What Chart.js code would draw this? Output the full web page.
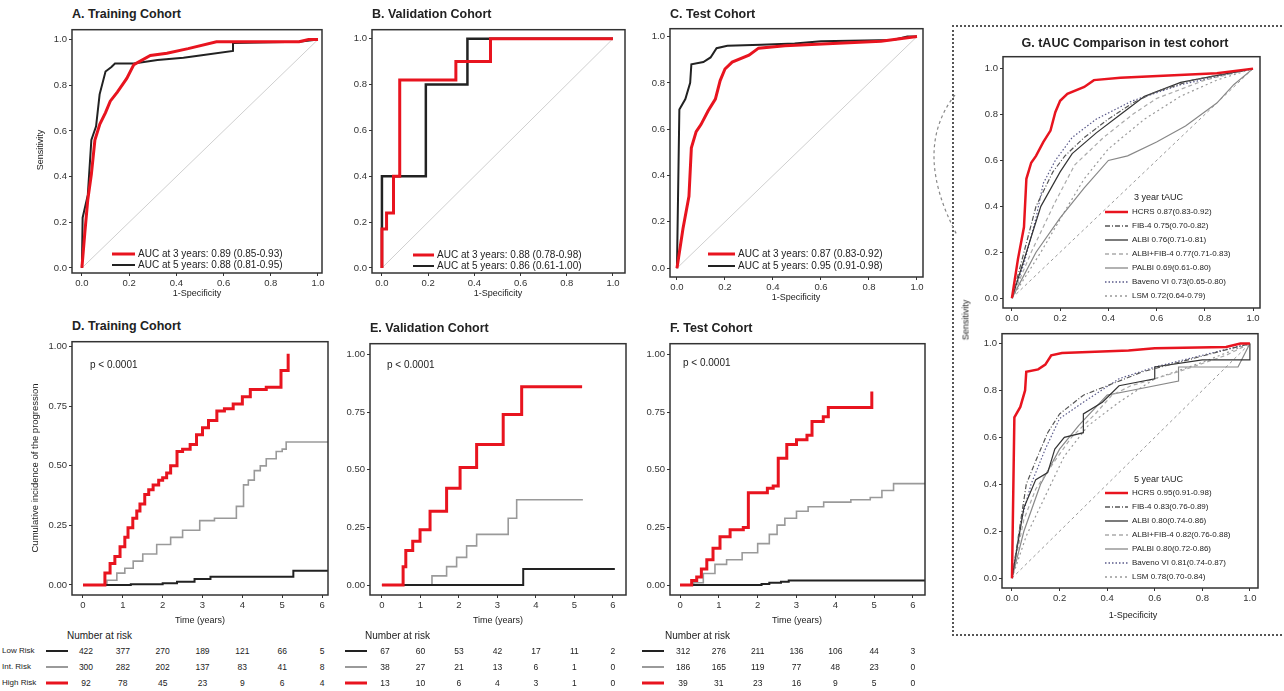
<!DOCTYPE html>
<html>
<head>
<meta charset="utf-8">
<script src="https://cdn.jsdelivr.net/npm/chart.js@4"></script>
<style>
body { margin: 0; background: #fff; font-family: "Liberation Sans", Arial, sans-serif; }
#wrap { position: relative; width: 1284px; height: 691px; overflow: hidden; }
#wrap canvas { position: absolute; }
.t { position: absolute; white-space: nowrap; color: #222; line-height: 1; }
</style>
</head>
<body>
<div id="wrap"></div>
<script>
// ---- tick labels ----
const rocTicks = [0, 0.2, 0.4, 0.6, 0.8, 1.0];
const rocTickLabels = ['0.0', '0.2', '0.4', '0.6', '0.8', '1.0'];
const kmXTicks = [0, 1, 2, 3, 4, 5, 6];
const kmXTickLabels = ['0', '1', '2', '3', '4', '5', '6'];
const kmYTicks = [0, 0.25, 0.5, 0.75, 1];
const kmYTickLabels = ['0.00', '0.25', '0.50', '0.75', '1.00'];

// ---- A. training ROC ----
const aFpr3 = [0, 0.012, 0.025, 0.04, 0.055, 0.076, 0.1, 0.12, 0.15, 0.19, 0.22, 0.29, 0.36, 0.45, 0.57, 0.75, 0.92, 0.96, 1];
const aTpr3 = [0, 0.15, 0.3, 0.41, 0.56, 0.63, 0.68, 0.73, 0.77, 0.83, 0.89, 0.93, 0.94, 0.96, 0.99, 0.99, 0.99, 1, 1];
const aFpr5 = [0, 0.003, 0.025, 0.04, 0.06, 0.075, 0.1, 0.125, 0.14, 0.22, 0.32, 0.43, 0.5, 0.64, 0.64, 0.92, 1];
const aTpr5 = [0, 0.22, 0.32, 0.56, 0.62, 0.76, 0.86, 0.88, 0.895, 0.895, 0.91, 0.92, 0.93, 0.95, 0.985, 0.99, 1];
// ---- B. validation ROC ----
const bFpr3 = [0, 0, 0.02, 0.02, 0.05, 0.05, 0.077, 0.077, 0.32, 0.32, 0.47, 0.47, 1];
const bTpr3 = [0, 0.17, 0.17, 0.24, 0.24, 0.4, 0.4, 0.82, 0.82, 0.9, 0.9, 1, 1];
const bFpr5 = [0, 0, 0.19, 0.19, 0.37, 0.37, 1];
const bTpr5 = [0, 0.4, 0.4, 0.8, 0.8, 1, 1];
// ---- C. test ROC ----
const cFpr3 = [0, 0.025, 0.05, 0.06, 0.08, 0.1, 0.13, 0.16, 0.18, 0.2, 0.23, 0.3, 0.34, 0.45, 0.65, 0.85, 1];
const cTpr3 = [0, 0.17, 0.31, 0.52, 0.59, 0.62, 0.68, 0.73, 0.81, 0.86, 0.89, 0.92, 0.95, 0.96, 0.97, 0.98, 1];
const cFpr5 = [0, 0.01, 0.035, 0.055, 0.06, 0.11, 0.14, 0.165, 0.21, 0.35, 0.49, 0.6, 0.9, 0.96, 1];
const cTpr5 = [0, 0.685, 0.73, 0.8, 0.88, 0.89, 0.91, 0.95, 0.96, 0.965, 0.97, 0.98, 0.985, 1, 1];
const rocLegendA = ['AUC at 3 years: 0.89 (0.85-0.93)', 'AUC at 5 years: 0.88 (0.81-0.95)'];
const rocLegendB = ['AUC at 3 years: 0.88 (0.78-0.98)', 'AUC at 5 years: 0.86 (0.61-1.00)'];
const rocLegendC = ['AUC at 3 years: 0.87 (0.83-0.92)', 'AUC at 5 years: 0.95 (0.91-0.98)'];

// ---- G. comparison, 3 year ----
const g3Fpr = [
  [0, 0.05, 0.1, 0.17, 0.22, 0.3, 0.4, 0.5, 0.6, 0.75, 1],
  [0, 0.06, 0.12, 0.2, 0.25, 0.35, 0.45, 0.55, 0.7, 1],
  [0, 0.08, 0.18, 0.26, 0.38, 0.5, 0.6, 0.8, 1],
  [0, 0.1, 0.2, 0.3, 0.4, 0.48, 0.6, 0.72, 0.85, 0.92, 1],
  [0, 0.05, 0.1, 0.13, 0.18, 0.25, 0.35, 0.5, 0.7, 1],
  [0, 0.12, 0.22, 0.3, 0.4, 0.55, 0.7, 0.85, 1]
];
const g3Tpr = [
  [0, 0.2, 0.4, 0.55, 0.62, 0.7, 0.78, 0.85, 0.9, 0.95, 1],
  [0, 0.2, 0.4, 0.55, 0.63, 0.72, 0.8, 0.88, 0.94, 1],
  [0, 0.2, 0.42, 0.58, 0.7, 0.8, 0.87, 0.95, 1],
  [0, 0.2, 0.35, 0.48, 0.6, 0.62, 0.68, 0.75, 0.85, 0.93, 1],
  [0, 0.15, 0.35, 0.5, 0.6, 0.7, 0.78, 0.86, 0.93, 1],
  [0, 0.2, 0.38, 0.52, 0.65, 0.78, 0.88, 0.95, 1]
];
const g3Labels = ['HCRS 0.87(0.83-0.92)', 'FIB-4 0.75(0.70-0.82)', 'ALBI 0.76(0.71-0.81)',
  'ALBI+FIB-4 0.77(0.71-0.83)', 'PALBI 0.69(0.61-0.80)', 'Baveno VI 0.73(0.65-0.80)', 'LSM 0.72(0.64-0.79)'];
// ---- G. comparison, 5 year ----
const g5Fpr = [
  [0, 0.03, 0.06, 0.1, 0.15, 0.2, 0.3, 0.4, 0.55, 0.7, 1],
  [0, 0.05, 0.1, 0.15, 0.18, 0.22, 0.3, 0.3, 0.38, 0.45, 0.6, 0.6, 0.8, 1, 1],
  [0, 0.05, 0.1, 0.18, 0.25, 0.35, 0.42, 0.5, 0.7, 0.9, 1],
  [0, 0.05, 0.12, 0.2, 0.28, 0.4, 0.5, 0.7, 0.7, 0.95, 1],
  [0, 0.04, 0.08, 0.14, 0.2, 0.3, 0.45, 0.6, 0.8, 1],
  [0, 0.06, 0.14, 0.22, 0.32, 0.45, 0.6, 0.8, 1]
];
const g5Tpr = [
  [0, 0.2, 0.4, 0.5, 0.62, 0.7, 0.78, 0.82, 0.88, 0.92, 1],
  [0, 0.3, 0.42, 0.45, 0.55, 0.6, 0.62, 0.7, 0.75, 0.82, 0.85, 0.9, 0.93, 0.93, 1],
  [0, 0.25, 0.38, 0.5, 0.6, 0.7, 0.78, 0.82, 0.88, 0.95, 1],
  [0, 0.2, 0.4, 0.55, 0.65, 0.78, 0.8, 0.84, 0.9, 0.9, 1],
  [0, 0.25, 0.4, 0.55, 0.68, 0.75, 0.85, 0.9, 0.95, 1],
  [0, 0.18, 0.35, 0.52, 0.65, 0.75, 0.85, 0.92, 1]
];
const g5Labels = ['HCRS 0.95(0.91-0.98)', 'FIB-4 0.83(0.76-0.89)', 'ALBI 0.80(0.74-0.86)',
  'ALBI+FIB-4 0.82(0.76-0.88)', 'PALBI 0.80(0.72-0.86)', 'Baveno VI 0.81(0.74-0.87)', 'LSM 0.78(0.70-0.84)'];

// ---- D. training cumulative incidence ----
const dTimeHigh = [0, 0.43, 0.55, 0.68, 0.8, 0.93, 1.05, 1.13, 1.25, 1.35, 1.43, 1.55, 1.65, 1.76, 1.9, 2.0, 2.1, 2.2, 2.36, 2.5, 2.69, 2.85, 3.0, 3.15, 3.36, 3.55, 3.77, 4.0, 4.2, 4.6, 4.97, 5.1, 5.15];
const dIncHigh = [0, 0, 0.05, 0.09, 0.12, 0.16, 0.2, 0.24, 0.28, 0.31, 0.34, 0.38, 0.4, 0.42, 0.44, 0.45, 0.47, 0.5, 0.56, 0.57, 0.59, 0.63, 0.66, 0.69, 0.73, 0.74, 0.76, 0.79, 0.82, 0.83, 0.9, 0.9, 0.97];
const dTimeInt = [0, 0.6, 0.85, 1.05, 1.26, 1.5, 1.85, 2.2, 2.5, 2.93, 3.3, 3.7, 3.85, 4.03, 4.15, 4.3, 4.45, 4.6, 4.85, 5.0, 5.1, 6.15];
const dIncInt = [0, 0.02, 0.05, 0.07, 0.1, 0.13, 0.17, 0.2, 0.23, 0.27, 0.28, 0.28, 0.33, 0.42, 0.44, 0.48, 0.5, 0.53, 0.56, 0.57, 0.6, 0.6];
const dTimeLow = [0, 1.2, 2.0, 2.36, 2.8, 3.2, 5.28, 6.15];
const dIncLow = [0, 0.003, 0.007, 0.014, 0.025, 0.035, 0.06, 0.06];
// ---- E. validation ----
const eTimeHigh = [0, 0.55, 0.62, 0.8, 0.99, 1.25, 1.68, 2.03, 2.46, 3.15, 3.63, 5.2];
const eIncHigh = [0, 0.08, 0.15, 0.19, 0.24, 0.32, 0.42, 0.51, 0.61, 0.74, 0.86, 0.86];
const eTimeInt = [0, 1.3, 1.68, 1.94, 2.2, 2.46, 3.28, 3.5, 5.22];
const eIncInt = [0, 0.04, 0.08, 0.12, 0.17, 0.22, 0.29, 0.37, 0.37];
const eTimeLow = [0, 3.67, 6.05];
const eIncLow = [0, 0.07, 0.07];
// ---- F. test ----
const fTimeHigh = [0, 0.2, 0.3, 0.43, 0.55, 0.69, 0.85, 1.03, 1.29, 1.63, 1.76, 2.25, 2.4, 2.53, 2.75, 3.0, 3.27, 3.4, 3.69, 3.82, 4.9, 4.94];
const fIncHigh = [0, 0, 0.02, 0.035, 0.07, 0.11, 0.16, 0.21, 0.24, 0.25, 0.4, 0.42, 0.43, 0.55, 0.61, 0.63, 0.65, 0.71, 0.73, 0.77, 0.77, 0.84];
const fTimeInt = [0, 0.35, 0.6, 0.9, 1.2, 1.6, 2.0, 2.3, 2.5, 2.7, 3.0, 3.3, 3.7, 4.4, 4.9, 5.2, 5.5, 6.31];
const fIncInt = [0, 0.01, 0.05, 0.09, 0.11, 0.14, 0.18, 0.22, 0.26, 0.29, 0.32, 0.34, 0.36, 0.37, 0.38, 0.41, 0.44, 0.44];
const fTimeLow = [0, 2.1, 2.3, 2.6, 2.8, 6.31];
const fIncLow = [0, 0.005, 0.01, 0.015, 0.02, 0.02];

// ---- number at risk ----
const riskGroups = ['Low Risk', 'Int. Risk', 'High Risk'];
const dRisk = [[422, 377, 270, 189, 121, 66, 5], [300, 282, 202, 137, 83, 41, 8], [92, 78, 45, 23, 9, 6, 4]];
const eRisk = [[67, 60, 53, 42, 17, 11, 2], [38, 27, 21, 13, 6, 1, 0], [13, 10, 6, 4, 3, 1, 0]];
const fRisk = [[312, 276, 211, 136, 106, 44, 3], [186, 165, 119, 77, 48, 23, 0], [39, 31, 23, 16, 9, 5, 0]];

const RED = '#e8141f', BLK = '#222', GRY = '#9a9a9a';
const riskColors = [BLK, GRY, RED];
const gStyles = [
  { c: '#555', w: 1.2, d: [5, 2, 1, 2] },
  { c: '#333', w: 1.2, d: [] },
  { c: '#aaa', w: 1.2, d: [4, 3] },
  { c: '#888', w: 1.2, d: [] },
  { c: '#5a5a8a', w: 1.2, d: [1.5, 2] },
  { c: '#999', w: 1.2, d: [2, 3] }
];

const wrap = document.getElementById('wrap');
const svgNS = 'http://www.w3.org/2000/svg';
const svg = document.createElementNS(svgNS, 'svg');
svg.setAttribute('width', 1284); svg.setAttribute('height', 691);
svg.style.cssText = 'position:absolute;left:0;top:0;pointer-events:none;z-index:2';

function txt(s, x, y, size, opt) {
  opt = opt || {};
  const d = document.createElement('div');
  d.className = 't';
  d.textContent = s;
  d.style.left = x + 'px';
  d.style.top = y + 'px';
  d.style.fontSize = size + 'px';
  if (opt.bold) d.style.fontWeight = 'bold';
  if (opt.color) d.style.color = opt.color;
  let tf = opt.align === 'center' ? 'translate(-50%,-50%)' : 'translateY(-50%)';
  if (opt.rot) tf = 'translate(-50%,-50%) rotate(-90deg)';
  d.style.transform = tf;
  wrap.appendChild(d);
}

function svgLine(x1, y1, x2, y2, color, w, dash) {
  const l = document.createElementNS(svgNS, 'line');
  l.setAttribute('x1', x1); l.setAttribute('y1', y1);
  l.setAttribute('x2', x2); l.setAttribute('y2', y2);
  l.setAttribute('stroke', color); l.setAttribute('stroke-width', w);
  if (dash && dash.length) l.setAttribute('stroke-dasharray', dash.join(' '));
  svg.appendChild(l);
}

const pts = (xs, ys) => xs.map((x, i) => ({ x: x, y: ys[i] }));
function line(xs, ys, color, width, extra) {
  return Object.assign({ data: pts(xs, ys), borderColor: color, borderWidth: width,
    pointRadius: 0, fill: false, tension: 0 }, extra || {});
}

const frame = {
  id: 'frame',
  afterDatasetsDraw(c) {
    const a = c.chartArea, x = c.ctx;
    x.save();
    x.strokeStyle = '#333';
    x.lineWidth = 1.5;
    x.strokeRect(a.left, a.top, a.right - a.left, a.bottom - a.top);
    x.restore();
  }
};

function makePanel(box, xr, yr, xTicks, xLabels, yTicks, yLabels, datasets) {
  const padL = 46, padT = 6, padR = 14, padB = 22;
  const cv = document.createElement('canvas');
  cv.width = box[2] - box[0] + padL + padR;
  cv.height = box[3] - box[1] + padT + padB;
  cv.style.left = (box[0] - padL) + 'px';
  cv.style.top = (box[1] - padT) + 'px';
  wrap.appendChild(cv);
  const tickFont = { family: 'Liberation Sans', size: 9.5 };
  const chart = new Chart(cv, {
    type: 'line',
    data: { datasets: datasets },
    options: {
      responsive: false,
      animation: false,
      devicePixelRatio: 1,
      layout: { padding: { left: 0, top: padT, right: padR, bottom: 0 } },
      plugins: { legend: { display: false }, tooltip: { enabled: false } },
      scales: {
        x: {
          type: 'linear', min: xr[0], max: xr[1],
          afterBuildTicks: s => { s.ticks = xTicks.map(v => ({ value: v })); },
          afterFit: s => { s.height = padB; },
          ticks: { autoSkip: false, maxRotation: 0, font: tickFont, color: '#333', padding: 2,
            callback: (v, i) => xLabels[i] },
          grid: { drawOnChartArea: false, tickLength: 3, color: '#333' },
          border: { display: false }
        },
        y: {
          type: 'linear', min: yr[0], max: yr[1],
          afterBuildTicks: s => { s.ticks = yTicks.map(v => ({ value: v })); },
          afterFit: s => { s.width = padL; },
          ticks: { autoSkip: false, font: tickFont, color: '#333', padding: 2,
            callback: (v, i) => yLabels[i] },
          grid: { drawOnChartArea: false, tickLength: 3, color: '#333' },
          border: { display: false }
        }
      }
    },
    plugins: [frame]
  });
  chart.ox = box[0] - padL;
  return chart;
}

const diag = line([0, 1], [0, 1], '#cfcfcf', 1);

// ROC panels
makePanel([72, 28, 322, 273], [-0.042, 1.017], [-0.022, 1.043], rocTicks, rocTickLabels, rocTicks, rocTickLabels,
  [line(aFpr3, aTpr3, RED, 3), line(aFpr5, aTpr5, BLK, 2), diag]);
makePanel([372, 28, 625, 273], [-0.043, 1.052], [-0.022, 1.039], rocTicks, rocTickLabels, rocTicks, rocTickLabels,
  [line(bFpr3, bTpr3, RED, 3), line(bFpr5, bTpr5, BLK, 2.5), line([0, 1], [0, 1], '#cfcfcf', 1)]);
makePanel([670, 27, 923, 277], [-0.029, 1.025], [-0.038, 1.034], rocTicks, rocTickLabels, rocTicks, rocTickLabels,
  [line(cFpr3, cTpr3, RED, 3), line(cFpr5, cTpr5, BLK, 2), line([0, 1], [0, 1], '#cfcfcf', 1)]);

// G panels
function gSets(redX, redY, fx, fy) {
  const sets = [line(redX, redY, RED, 2.5)];
  fx.forEach((xs, i) => sets.push(line(xs, fy[i], gStyles[i].c, gStyles[i].w, { borderDash: gStyles[i].d })));
  sets.push(line([0, 1], [0, 1], '#999', 1, { borderDash: [3, 3] }));
  return sets;
}
makePanel([1003, 55, 1260, 308], [-0.037, 1.029], [-0.043, 1.052], rocTicks, rocTickLabels, rocTicks, rocTickLabels,
  gSets(cFpr3, cTpr3, g3Fpr, g3Tpr));
makePanel([1002, 332, 1258, 588], [-0.042, 1.034], [-0.042, 1.042], rocTicks, rocTickLabels, rocTicks, rocTickLabels,
  gSets(cFpr5, cTpr5, g5Fpr, g5Tpr));

// KM panels
function kmSets(th, ih, ti, ii, tl, il) {
  return [line(th, ih, RED, 3, { stepped: true }), line(tl, il, BLK, 2, { stepped: true }),
    line(ti, ii, GRY, 1.6, { stepped: true })];
}
const chD = makePanel([72, 340, 328, 595], [-0.276, 6.15], [-0.042, 1.021], kmXTicks, kmXTickLabels, kmYTicks, kmYTickLabels,
  kmSets(dTimeHigh, dIncHigh, dTimeInt, dIncInt, dTimeLow, dIncLow));
const chE = makePanel([370, 342, 626, 595], [-0.31, 6.34], [-0.043, 1.047], kmXTicks, kmXTickLabels, kmYTicks, kmYTickLabels,
  kmSets(eTimeHigh, eIncHigh, eTimeInt, eIncInt, eTimeLow, eIncLow));
const chF = makePanel([670, 342, 925, 595], [-0.258, 6.31], [-0.043, 1.047], kmXTicks, kmXTickLabels, kmYTicks, kmYTickLabels,
  kmSets(fTimeHigh, fIncHigh, fTimeInt, fIncInt, fTimeLow, fIncLow));

// titles
txt('A. Training Cohort', 72, 14, 12.5, { bold: true });
txt('B. Validation Cohort', 372, 14, 12.5, { bold: true });
txt('C. Test Cohort', 670, 14, 12.5, { bold: true });
txt('D. Training Cohort', 72, 326, 12.5, { bold: true });
txt('E. Validation Cohort', 370, 328, 12.5, { bold: true });
txt('F. Test Cohort', 670, 328, 12.5, { bold: true });
txt('G. tAUC Comparison in test cohort', 1125, 43, 12.5, { bold: true, align: 'center' });

// axis titles
txt('Sensitivity', 40, 150, 9, { rot: true });
txt('1-Specificity', 197, 293, 9, { align: 'center' });
txt('1-Specificity', 498, 293, 9, { align: 'center' });
txt('1-Specificity', 796, 297, 9, { align: 'center' });
txt('Cumulative incidence of the progression', 35, 468, 9.5, { rot: true });
txt('Time (years)', 200, 620, 9, { align: 'center' });
txt('Time (years)', 498, 620, 9, { align: 'center' });
txt('Time (years)', 797, 620, 9, { align: 'center' });
txt('Sensitivity', 966, 320, 9, { rot: true });
txt('1-Specificity', 1133, 615, 9, { align: 'center' });

// p values
txt('p < 0.0001', 90, 365, 10);
txt('p < 0.0001', 387, 365, 10);
txt('p < 0.0001', 683, 363, 10);

// ROC legends
function rocLegend(labels, sx, tx, ys) {
  svgLine(sx, ys[0], tx - 3, ys[0], RED, 3);
  svgLine(sx, ys[1], tx - 3, ys[1], BLK, 2);
  txt(labels[0], tx, ys[0], 10);
  txt(labels[1], tx, ys[1], 10);
}
rocLegend(rocLegendA, 112, 138, [254, 265]);
rocLegend(rocLegendB, 413, 437, [255, 266]);
rocLegend(rocLegendC, 708, 738, [254, 266]);

// G legends
function gLegend(title, labels, ty, ys) {
  txt(title, 1134, ty, 9);
  labels.forEach((s, i) => {
    if (i === 0) svgLine(1105, ys[i], 1128, ys[i], RED, 2.5);
    else svgLine(1105, ys[i], 1128, ys[i], gStyles[i - 1].c, 1.3, gStyles[i - 1].d);
    txt(s, 1132, ys[i], 8);
  });
}
gLegend('3 year tAUC', g3Labels, 197, [212, 226, 240, 254, 268, 282, 296]);
gLegend('5 year tAUC', g5Labels, 479, [493, 507, 521, 535, 549, 563, 577]);

// number at risk tables
function riskTable(chart, rows, sampleX, titleX, labels) {
  const ys = [651, 667, 683];
  txt('Number at risk', titleX, 636, 10);
  rows.forEach((vals, r) => {
    if (labels) txt(riskGroups[r], 2, ys[r], 8);
    svgLine(sampleX, ys[r], sampleX + 22, ys[r], riskColors[r], r === 2 ? 3 : 2);
    vals.forEach((v, i) => {
      const x = chart.ox + chart.scales.x.getPixelForValue(kmXTicks[i]);
      txt(String(v), i === 0 ? x + 3 : x, ys[r], 8.5, { align: 'center' });
    });
  });
}
riskTable(chD, dRisk, 46, 67, true);
riskTable(chE, eRisk, 345, 365, false);
riskTable(chF, fRisk, 642, 665, false);

// dotted frame around G and connector
const box = document.createElement('div');
box.style.cssText = 'position:absolute;left:952px;top:25px;width:330px;height:607px;border:2px dotted #555;';
wrap.appendChild(box);
const path = document.createElementNS(svgNS, 'path');
path.setAttribute('d', 'M955,95 Q912,150 957,235');
path.setAttribute('fill', 'none');
path.setAttribute('stroke', '#888');
path.setAttribute('stroke-width', 1.2);
path.setAttribute('stroke-dasharray', '3 3');
svg.appendChild(path);
wrap.appendChild(svg);
</script>
</body>
</html>
